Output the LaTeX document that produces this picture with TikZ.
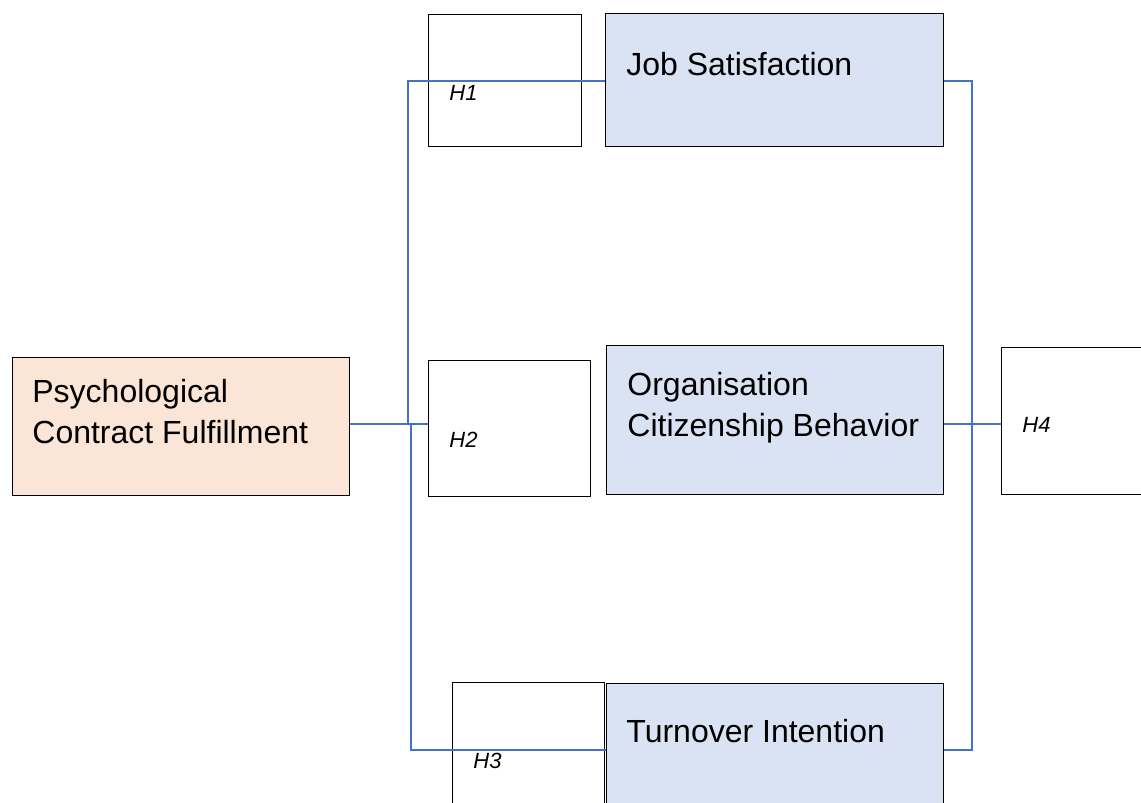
\documentclass[tikz,border=0pt]{standalone}
\usepackage{fontspec}
\setmainfont{Liberation Sans}
\usepackage{xcolor}
\usetikzlibrary{positioning,calc}

\definecolor{peach}{HTML}{FBE5D6}
\definecolor{paleblue}{HTML}{DAE3F3}
\definecolor{linkblue}{HTML}{4472C4}

\tikzset{
	box/.style={draw=black,line width=0.7pt,rectangle,inner sep=0pt,anchor=north west},
	hbox/.style={box,fill=white},
	cbox/.style={box,fill=paleblue},
	pbox/.style={box,fill=peach},
	lbl/.style={inner sep=0pt,anchor=north west,align=left,font=\fontsize{16}{20.5}\selectfont},
	hlbl/.style={inner sep=0pt,anchor=base west,font=\fontsize{11}{13}\selectfont\itshape},
	link/.style={draw=linkblue,line width=0.6pt}
}

\begin{document}
\begin{tikzpicture}[x=0.5pt,y=-0.5pt]
			\useasboundingbox (0,0) rectangle (1141,803);
			
			% boxes
			\node[pbox,minimum width=168.5pt,minimum height=69pt] (pcf) at (12,357) {};
			\node[hbox,minimum width=76.5pt,minimum height=66pt] (h1) at (428,14) {};
			\node[cbox,minimum width=169pt,minimum height=66.5pt] (js) at (605,13) {};
			\node[hbox,minimum width=81pt,minimum height=68pt] (h2) at (428,360) {};
			\node[cbox,minimum width=168.5pt,minimum height=74.5pt] (ocb) at (606,345) {};
			\node[hbox,minimum width=74.5pt,minimum height=73.5pt] (h4) at (1001,347) {};
			\node[hbox,minimum width=76pt,minimum height=65pt] (h3) at (452,682) {};
			\node[cbox,minimum width=168.5pt,minimum height=64.5pt] (ti) at (606,683) {};
			
			% texts
			\node[lbl] (pcfT) at (32,379) {Psychological\\Contract Fulfillment};
			\node[lbl] (jsT) at (626,52) {Job Satisfaction};
			\node[lbl] (ocbT) at (627,372) {Organisation\\Citizenship Behavior};
			\node[lbl] (tiT) at (626,719) {Turnover Intention};
			\node[hlbl] (h1T) at (449,100) {H1};
			\node[hlbl] (h2T) at (449,447) {H2};
			\node[hlbl] (h3T) at (473,768) {H3};
			\node[hlbl] (h4T) at (1022,432) {H4};
			
			% junctions
			\coordinate (lm) at (408,424);
			\coordinate (lb) at (411,750);
			\coordinate (rt) at (972,81);
			\coordinate (rm) at (972,424);
			\coordinate (rb) at (972,750);
			
			% links
			\draw[link] (js.west |- 0,81) -| (lm);
			\draw[link] (pcf.east |- lm) -- (h2.west |- lm);
			\draw[link] (lm -| lb) -- (lb) -- (ti.west |- lb);
			\draw[link] (js.east |- rt) -- (rt) -- (rb) -- (ti.east |- rb);
			\draw[link] (ocb.east |- rm) -- (h4.west |- rm);
		\end{tikzpicture}
\end{document}
